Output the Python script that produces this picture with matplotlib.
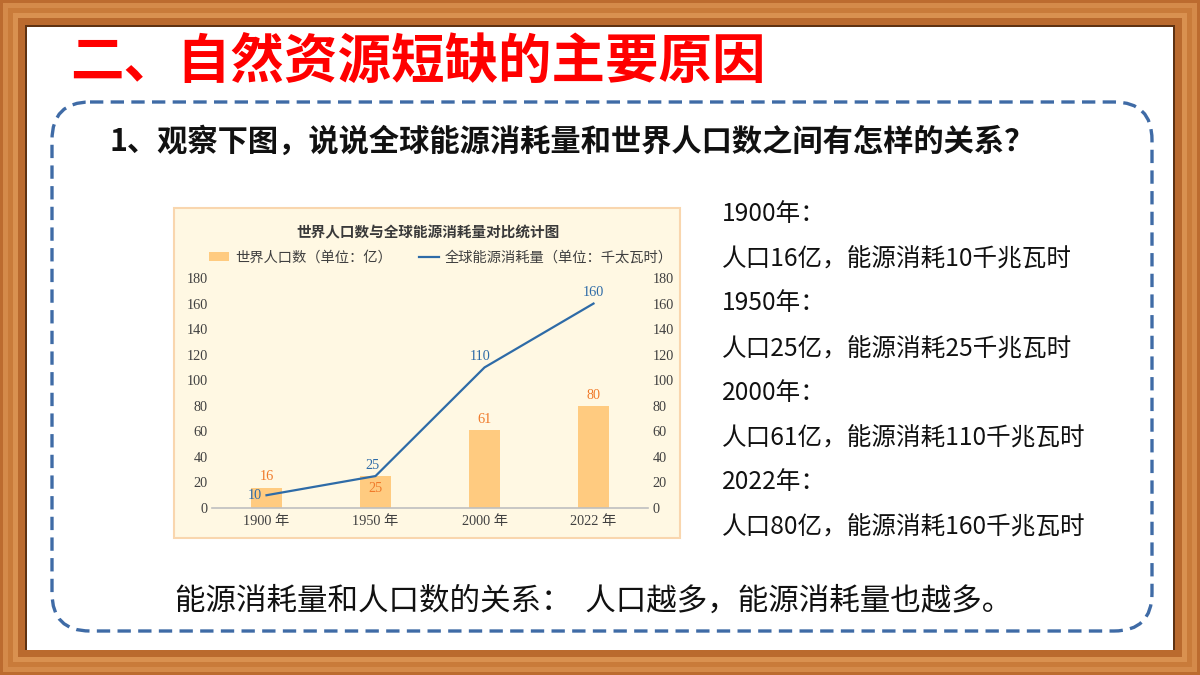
import matplotlib
matplotlib.use("Agg")
import matplotlib.pyplot as plt
from matplotlib.patches import Rectangle, FancyBboxPatch

plt.rcParams["font.family"] = ["Noto Sans CJK SC", "DejaVu Sans"]

# data
years = ["1900 年", "1950 年", "2000 年", "2022 年"]
population = [16, 25, 61, 80]      # 亿
energy = [10, 25, 110, 160]        # 千太瓦时
yticks = [0, 20, 40, 60, 80, 100, 120, 140, 160, 180]

notes = [
    "1900年：", "人口16亿，能源消耗10千兆瓦时",
    "1950年：", "人口25亿，能源消耗25千兆瓦时",
    "2000年：", "人口61亿，能源消耗110千兆瓦时",
    "2022年：", "人口80亿，能源消耗160千兆瓦时",
]

W, H = 1200, 675
fig = plt.figure(figsize=(12, 6.75), dpi=100)

# slide background in pixel coordinates
bg = fig.add_axes([0, 0, 1, 1])
bg.set_xlim(0, W)
bg.set_ylim(H, 0)
bg.axis("off")

# wooden frame: nested bands
bands = [(0, "#BC6B2F"), (3, "#D48A4A"), (8, "#C97B3A"), (13, "#D99150"),
         (18, "#BA6A2E"), (25, "#5E3212")]
for inset, col in bands:
    bg.add_patch(Rectangle((inset, inset), W - 2 * inset, H - 2 * inset,
                           facecolor=col, edgecolor="none"))
bg.add_patch(Rectangle((27, 27), W - 54, H - 52, facecolor="white", edgecolor="none"))

# dashed rounded box
bg.add_patch(FancyBboxPatch((52, 102), 1100, 529,
                            boxstyle="round,pad=0,rounding_size=38",
                            facecolor="none", edgecolor="#3F6BA6", lw=2.4,
                            linestyle=(0, (4, 2.2))))

bg.text(70, 62, "二、自然资源短缺的主要原因", fontsize=38.5, fontweight="bold",
        color="#FF0000", ha="left", va="center")
bg.text(110, 142, "1、观察下图，说说全球能源消耗量和世界人口数之间有怎样的关系？",
        fontsize=21.8, fontweight="bold", color="#111111", ha="left", va="center")

for i, line in enumerate(notes):
    bg.text(722, 214 + i * 44.7, line, fontsize=17.7, color="#111111",
            ha="left", va="center")

bg.text(175, 601, "能源消耗量和人口数的关系：  人口越多，能源消耗量也越多。",
        fontsize=22, color="#111111", ha="left", va="center")

# chart picture background
bg.add_patch(Rectangle((174, 208), 506, 330, facecolor="#FFF8E3",
                       edgecolor="#F9D6AE", lw=1.5))
bg.text(428, 232, "世界人口数与全球能源消耗量对比统计图", fontsize=10.5,
        fontweight="bold", color="#3A3A3A", ha="center", va="center")

# chart axes
ax = fig.add_axes([212 / W, 1 - 508 / H, 436 / W, 230 / H])
ax.patch.set_visible(False)
x = range(len(years))
bar_color = "#FFCB80"
line_color = "#2E6BA7"
orange = "#F07A2A"

bars = ax.bar(x, population, width=0.28, color=bar_color, zorder=2,
              label="世界人口数（单位：亿）")
ln, = ax.plot(x, energy, color=line_color, lw=1.6, zorder=3,
              label="全球能源消耗量（单位：千太瓦时）")

ax.set_xlim(-0.5, len(years) - 0.5)
ax.set_ylim(0, 180)
ax.set_yticks(yticks)
ax.set_xticks(list(x))
ax.set_xticklabels(years)
serif = ["Liberation Serif", "Noto Sans CJK SC"]
for lab in ax.get_xticklabels() + ax.get_yticklabels():
    lab.set_family(serif)
    lab.set_fontsize(10.3)
    lab.set_color("#404040")
ax.tick_params(length=0, pad=3)
ax.tick_params(axis="x", pad=5)
for s in ("top", "left", "right"):
    ax.spines[s].set_visible(False)
ax.spines["bottom"].set_color("#BFBFBF")
ax.spines["bottom"].set_linewidth(1.2)

ax2 = ax.twinx()
ax2.set_ylim(0, 180)
ax2.set_yticks(yticks)
for lab in ax2.get_yticklabels():
    lab.set_family(serif)
    lab.set_fontsize(10.3)
    lab.set_color("#404040")
ax2.tick_params(length=0, pad=3.5)
for s in ax2.spines.values():
    s.set_visible(False)

# bar value labels (1950 label sits inside the bar)
bar_off = [3, -9, 3, 3]
for i, v in enumerate(population):
    ax.annotate(str(v), (i, v), textcoords="offset points", xytext=(0, bar_off[i]),
                ha="center", va="bottom" if bar_off[i] > 0 else "center",
                color=orange, fontsize=10.3, family=serif, zorder=4)

# line value labels
line_off = [(-3, 0, "right", "center"), (-2, 3, "center", "bottom"),
            (-3, 3, "center", "bottom"), (0, 3, "center", "bottom")]
for i, v in enumerate(energy):
    dx, dy, ha, va = line_off[i]
    ax.annotate(str(v), (i, v), textcoords="offset points", xytext=(dx, dy),
                ha=ha, va=va, color=line_color, fontsize=10.3, family=serif, zorder=4)

fig.legend(handles=[bars, ln], loc="center", bbox_to_anchor=(441 / W, 1 - 258 / H),
           ncol=2, frameon=False, fontsize=10.3, handlelength=1.4,
           handleheight=0.6, columnspacing=1.9, handletextpad=0.4,
           labelcolor="#404040")

fig.savefig("out.png", dpi=100)
